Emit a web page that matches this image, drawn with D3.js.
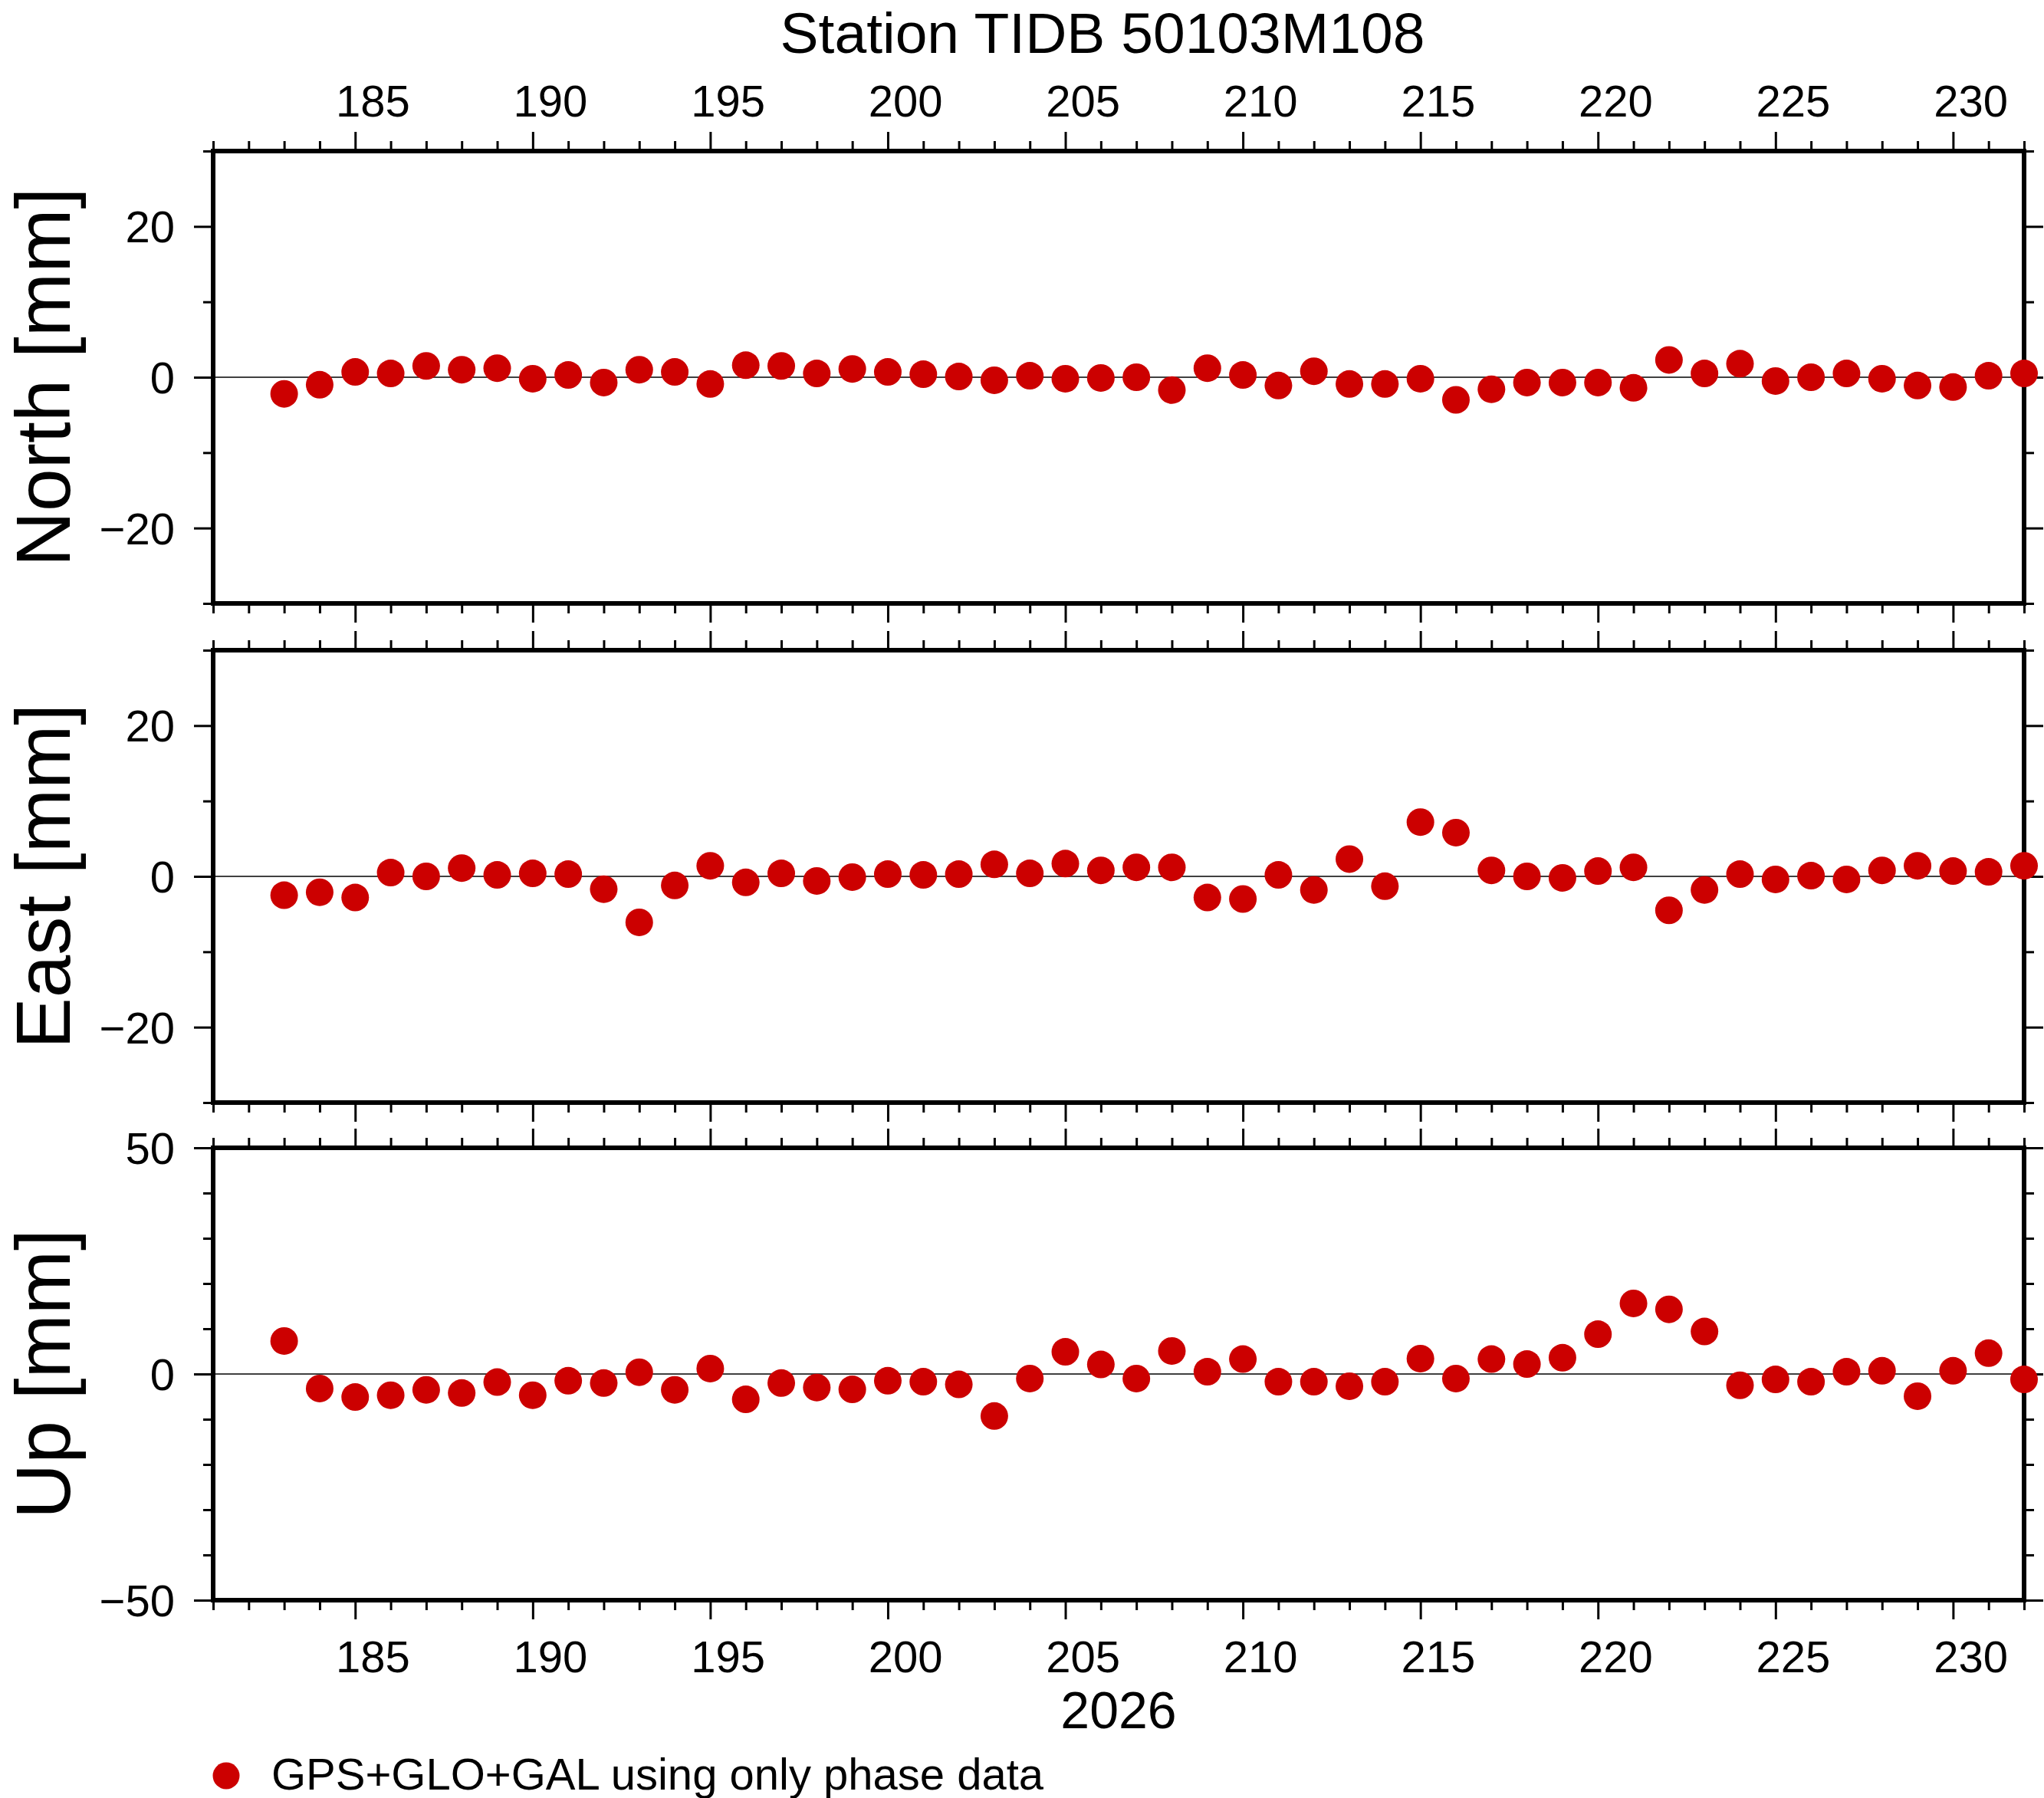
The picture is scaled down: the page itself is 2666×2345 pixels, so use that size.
<!DOCTYPE html>
<html>
<head>
<meta charset="utf-8">
<script src="https://cdn.jsdelivr.net/npm/d3@7"></script>
<style>
  body { margin: 0; background: #fff; }
  svg { display: block; }
</style>
</head>
<body>
<div id="vis"></div>
<script>
// day of year 2026
var days = [183, 184, 185, 186, 187, 188, 189, 190, 191, 192,
            193, 194, 195, 196, 197, 198, 199, 200, 201, 202,
            203, 204, 205, 206, 207, 208, 209, 210, 211, 212,
            213, 214, 215, 216, 217, 218, 219, 220, 221, 222,
            223, 224, 225, 226, 227, 228, 229, 230, 231, 232];

var north = [-2.2, -1.0, 0.7, 0.5, 1.5, 1.0, 1.2, -0.2, 0.3, -0.7,
             1.0, 0.7, -0.9, 1.6, 1.5, 0.5, 1.1, 0.7, 0.4, 0.1,
             -0.4, 0.2, -0.2, -0.1, 0.0, -1.7, 1.2, 0.3, -1.1, 0.8,
             -0.9, -0.9, -0.2, -3.0, -1.6, -0.7, -0.7, -0.7, -1.4, 2.3,
             0.5, 1.8, -0.5, 0.0, 0.5, -0.2, -1.1, -1.3, 0.2, 0.5];

var east = [-2.5, -2.1, -2.8, 0.5, 0.0, 1.1, 0.2, 0.4, 0.3, -1.7,
            -6.1, -1.2, 1.4, -0.8, 0.4, -0.6, -0.1, 0.3, 0.2, 0.3,
            1.6, 0.4, 1.7, 0.8, 1.2, 1.2, -2.8, -3.0, 0.2, -1.8,
            2.3, -1.3, 7.2, 5.8, 0.8, 0.0, -0.2, 0.7, 1.2, -4.5,
            -1.8, 0.3, -0.4, 0.1, -0.4, 0.8, 1.4, 0.7, 0.6, 1.4];

var up = [7.3, -3.2, -5.1, -4.7, -3.5, -4.2, -1.8, -4.7, -1.5, -2.0,
          0.4, -3.5, 1.2, -5.6, -2.0, -3.0, -3.4, -1.5, -1.7, -2.3,
          -9.3, -1.0, 4.9, 2.1, -1.0, 5.1, 0.5, 3.3, -1.7, -1.7,
          -2.7, -1.7, 3.4, -1.0, 3.3, 2.2, 3.6, 8.8, 15.6, 14.3,
          9.4, -2.5, -1.2, -1.7, 0.5, 0.7, -4.9, 0.7, 4.6, -1.2];

var xMajor = [185, 190, 195, 200, 205, 210, 215, 220, 225, 230];
var xMinor = [181, 182, 183, 184, 186, 187, 188, 189, 191, 192, 193, 194,
              196, 197, 198, 199, 201, 202, 203, 204, 206, 207, 208, 209,
              211, 212, 213, 214, 216, 217, 218, 219, 221, 222, 223, 224,
              226, 227, 228, 229, 231, 232];

var panels = [
    { label: "North [mm]", values: north, domain: [-30, 30], major: [-20, 0, 20], minor: [-30, -10, 10, 30] },
    { label: "East [mm]",  values: east,  domain: [-30, 30], major: [-20, 0, 20], minor: [-30, -10, 10, 30] },
    { label: "Up [mm]",    values: up,    domain: [-50, 50], major: [-50, 0, 50], minor: [-40, -30, -20, -10, 10, 20, 30, 40] }
];

var title = "Station TIDB 50103M108";
var yearLabel = "2026";
var legendLabel = "GPS+GLO+GAL using only phase data";

var W = 2666, H = 2345;
var left = 278, right = 2640;
var panelTops = [197, 848, 1497];
var panelH = 590;
var font = '"Liberation Sans", Arial, Helvetica, sans-serif';
var red = "#cc0000";
var majorLen = 25, minorLen = 13;

var svg = d3.select("#vis").append("svg")
    .attr("width", W).attr("height", H)
    .style("font-family", font);

var x = d3.scaleLinear().domain([181, 232]).range([left, right]);

function tickAxis(axisFn, scale, vals, len) {
    return axisFn(scale).tickValues(vals).tickSize(len).tickFormat("").tickSizeOuter(0);
}

function styleAxis(g) {
    g.select(".domain").remove();
    g.selectAll(".tick line").attr("stroke", "#000").attr("stroke-width", 3);
}

panels.forEach(function (p, i) {
    var top = panelTops[i], bottom = top + panelH;
    var y = d3.scaleLinear().domain(p.domain).range([bottom, top]);
    var g = svg.append("g");

    // ticks on all four sides
    [[d3.axisTop, top], [d3.axisBottom, bottom]].forEach(function (a) {
        g.append("g").attr("transform", "translate(0," + a[1] + ")")
            .call(tickAxis(a[0], x, xMajor, majorLen)).call(styleAxis);
        g.append("g").attr("transform", "translate(0," + a[1] + ")")
            .call(tickAxis(a[0], x, xMinor, minorLen)).call(styleAxis);
    });
    [[d3.axisLeft, left], [d3.axisRight, right]].forEach(function (a) {
        g.append("g").attr("transform", "translate(" + a[1] + ",0)")
            .call(tickAxis(a[0], y, p.major, majorLen)).call(styleAxis);
        g.append("g").attr("transform", "translate(" + a[1] + ",0)")
            .call(tickAxis(a[0], y, p.minor, minorLen)).call(styleAxis);
    });

    // zero line
    g.append("line")
        .attr("x1", left).attr("x2", right)
        .attr("y1", y(0)).attr("y2", y(0))
        .attr("stroke", "#000").attr("stroke-width", 1.5);

    // frame
    g.append("rect")
        .attr("x", left).attr("y", top)
        .attr("width", right - left).attr("height", panelH)
        .attr("fill", "none").attr("stroke", "#000").attr("stroke-width", 6);

    // y tick labels
    g.selectAll(".ylab").data(p.major).enter().append("text")
        .attr("x", left - 50)
        .attr("y", function (d) { return y(d); })
        .attr("dy", "0.36em")
        .attr("text-anchor", "end")
        .style("font-size", "58px")
        .text(function (d) { return d < 0 ? "\u2212" + Math.abs(d) : d; });

    // axis title
    g.append("text")
        .attr("transform", "translate(91," + (top + panelH / 2) + ") rotate(-90)")
        .attr("text-anchor", "middle")
        .style("font-size", "100px")
        .text(p.label);

    // points
    g.selectAll("circle").data(p.values).enter().append("circle")
        .attr("cx", function (d, j) { return x(days[j]); })
        .attr("cy", function (d) { return y(d); })
        .attr("r", 18)
        .attr("fill", red);
});

// x labels (centred on the day interval)
svg.selectAll(".xtop").data(xMajor).enter().append("text")
    .attr("x", function (d) { return x(d + 0.5); })
    .attr("y", 152)
    .attr("text-anchor", "middle")
    .style("font-size", "58px")
    .text(function (d) { return d; });

svg.selectAll(".xbot").data(xMajor).enter().append("text")
    .attr("x", function (d) { return x(d + 0.5); })
    .attr("y", 2181)
    .attr("text-anchor", "middle")
    .style("font-size", "58px")
    .text(function (d) { return d; });

svg.append("text")
    .attr("x", (left + right) / 2).attr("y", 2254)
    .attr("text-anchor", "middle")
    .style("font-size", "68px")
    .text(yearLabel);

svg.append("text")
    .attr("x", 1438).attr("y", 69)
    .attr("text-anchor", "middle")
    .style("font-size", "75px")
    .text(title);

// legend
svg.append("circle")
    .attr("cx", 295).attr("cy", 2316).attr("r", 17.5)
    .attr("fill", red);
svg.append("text")
    .attr("x", 354).attr("y", 2334)
    .style("font-size", "58px")
    .text(legendLabel);
</script>
</body>
</html>
